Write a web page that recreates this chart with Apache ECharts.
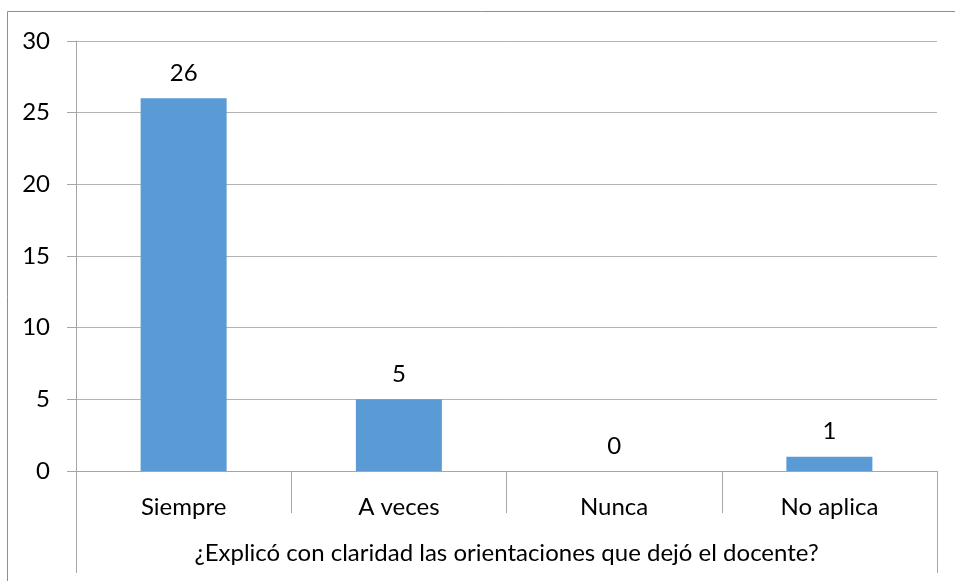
<!DOCTYPE html>
<html>
<head>
<meta charset="utf-8">
<script src="https://cdn.jsdelivr.net/npm/echarts@6/dist/echarts.min.js"></script>
<style>html,body{margin:0;padding:0;background:#fff}#c{width:955px;height:581px}</style>
</head>
<body>
<div id="c"></div>
<script>
var categories = ['Siempre', 'A veces', 'Nunca', 'No aplica'];
var values = [26, 5, 0, 1];
var groupTitle = ['¿Explicó con claridad las orientaciones que dejó el docente?'];
var yTicks = { min: 0, max: 30, interval: 5 };

var FONT = 'Lato';
var FS = 24;
var chart = echarts.init(document.getElementById('c'));
chart.setOption({
  animation: false,
  graphic: [{
    type: 'rect', silent: true, z: -1,
    shape: { x: 7.5, y: 11.5, width: 1000, height: 700 },
    style: { fill: 'none', stroke: '#8f8f8f', lineWidth: 1 }
  }],
  grid: { left: 76, right: 18, top: 41, bottom: 110, containLabel: false },
  xAxis: [{
    type: 'category', data: categories, position: 'bottom',
    axisLine: { show: true, lineStyle: { color: '#a6a6a6', width: 1 } },
    axisTick: { show: true, interval: 0, length: 42, lineStyle: { color: '#a6a6a6' } },
    axisLabel: { interval: 0, margin: 24, color: '#000', fontFamily: FONT, fontSize: FS }
  }, {
    type: 'category', data: groupTitle, position: 'bottom',
    axisLine: { show: false },
    axisTick: { show: true, length: 102, lineStyle: { color: '#a6a6a6' } },
    axisLabel: { margin: 70, color: '#000', fontFamily: FONT, fontSize: FS }
  }],
  yAxis: {
    type: 'value', min: yTicks.min, max: yTicks.max, interval: yTicks.interval,
    axisLine: { show: true, lineStyle: { color: '#a6a6a6' } },
    axisTick: { show: true, length: 9, lineStyle: { color: '#a6a6a6' } },
    axisLabel: { margin: 26, color: '#000', fontFamily: FONT, fontSize: FS },
    splitLine: { show: true, lineStyle: { color: '#b3b3b3', width: 1 } }
  },
  series: [{
    type: 'bar', data: values, xAxisIndex: 0, barWidth: 86,
    itemStyle: { color: '#5b9bd5' },
    label: { show: true, position: 'top', distance: 13, color: '#000', fontFamily: FONT, fontSize: FS }
  }]
});
</script>
</body>
</html>
